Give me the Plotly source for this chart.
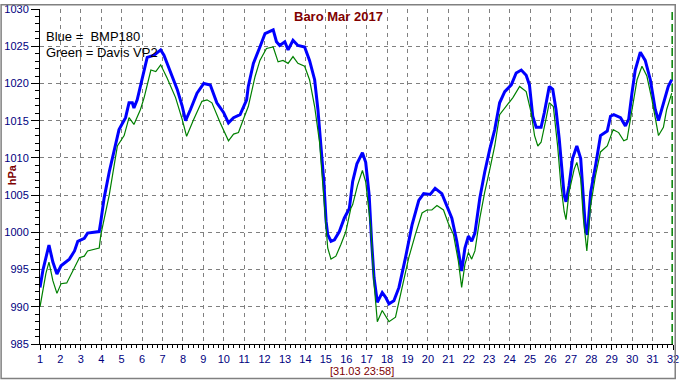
import plotly.graph_objects as go

# ---- data (day of month as fractional day, hPa) ----
blue_t = [1.00, 1.15, 1.44, 1.63, 1.83, 2.03, 2.44, 2.69, 2.85, 3.17, 3.33, 3.90, 3.98, 4.14, 4.39,
          4.63, 4.87, 5.19, 5.36, 5.52, 5.60, 5.76, 6.00, 6.25, 6.59, 6.91, 7.07, 7.40, 7.72, 7.96,
          8.13, 8.37, 8.69, 9.02, 9.34, 9.66, 9.99, 10.23, 10.48, 10.80, 11.12, 11.20, 11.45, 11.77,
          12.02, 12.42, 12.58, 12.74, 12.99, 13.15, 13.39, 13.63, 13.96, 14.20, 14.45, 14.61, 14.77,
          14.90, 15.01, 15.09, 15.25, 15.42, 15.66, 15.90, 16.15, 16.31, 16.52, 16.79, 16.95, 17.12,
          17.24, 17.36, 17.52, 17.76, 17.92, 18.09, 18.33, 18.58, 18.90, 19.22, 19.55, 19.79, 20.11,
          20.35, 20.68, 20.92, 21.17, 21.41, 21.57, 21.65, 21.81, 21.98, 22.14, 22.30, 22.54, 22.78,
          23.03, 23.27, 23.51, 23.76, 24.08, 24.32, 24.57, 24.81, 24.97, 25.13, 25.30, 25.54, 25.70,
          25.94, 26.11, 26.27, 26.43, 26.59, 26.67, 26.76, 26.91, 27.08, 27.29, 27.48, 27.61, 27.72,
          27.81, 27.97, 28.21, 28.45, 28.78, 28.94, 29.10, 29.43, 29.67, 29.83, 29.99, 30.15, 30.40,
          30.64, 30.89, 31.13, 31.29, 31.53, 31.77, 31.94]
blue_v = [992.6, 995.0, 998.3, 996.0, 994.4, 995.5, 996.4, 997.5, 998.8, 999.2, 999.9, 1000.1, 1001.5,
          1004.6, 1008.1, 1010.8, 1013.8, 1015.4, 1017.4, 1017.4, 1016.7, 1017.8, 1020.5, 1023.5,
          1023.8, 1024.5, 1023.8, 1021.6, 1019.2, 1017.0, 1015.0, 1016.5, 1018.7, 1020.0, 1019.8,
          1017.4, 1016.1, 1014.7, 1015.4, 1015.8, 1017.8, 1019.6, 1022.7, 1024.9, 1026.7, 1027.2,
          1025.6, 1025.1, 1025.6, 1024.5, 1025.8, 1025.1, 1024.9, 1023.1, 1020.5, 1016.5, 1011.2,
          1006.8, 1001.5, 999.7, 998.8, 999.0, 1000.1, 1001.9, 1003.2, 1006.8, 1009.2, 1010.7,
          1009.4, 1005.0, 998.8, 993.9, 990.6, 991.9, 991.3, 990.4, 990.8, 992.6, 996.6, 1001.0,
          1004.3, 1005.2, 1005.1, 1005.9, 1005.2, 1003.7, 1001.9, 998.8, 995.7, 994.8, 997.9, 999.5,
          998.8, 999.9, 1004.6, 1008.1, 1011.2, 1013.8, 1017.4, 1018.9, 1019.8, 1021.4, 1021.8,
          1021.1, 1019.8, 1015.6, 1014.1, 1014.1, 1016.1, 1019.6, 1019.2, 1016.5, 1012.5, 1007.2,
          1005.0, 1004.1, 1006.3, 1009.9, 1011.6, 1009.9, 1004.6, 1000.1, 999.7, 1005.4, 1009.0,
          1013.0, 1013.6, 1015.6, 1015.8, 1015.4, 1014.3, 1015.2, 1018.7, 1021.8, 1024.2, 1023.1,
          1020.5, 1016.5, 1015.0, 1017.4, 1019.6, 1020.5]

green_t = [1.00, 1.15, 1.29, 1.44, 1.63, 1.83, 2.03, 2.31, 2.69, 2.93, 3.17, 3.33, 3.90, 3.98, 4.39,
           4.79, 5.12, 5.36, 5.60, 5.92, 6.10, 6.43, 6.67, 6.91, 7.23, 7.64, 7.96, 8.18, 8.53, 8.93,
           9.18, 9.42, 9.83, 10.23, 10.48, 10.72, 10.96, 11.20, 11.53, 11.77, 12.09, 12.42, 12.66,
           12.90, 13.15, 13.39, 13.63, 13.96, 14.20, 14.45, 14.69, 14.85, 15.01, 15.09, 15.25, 15.49,
           15.74, 15.98, 16.22, 16.31, 16.55, 16.79, 16.95, 17.20, 17.36, 17.52, 17.76, 17.92, 18.09,
           18.41, 18.74, 19.06, 19.38, 19.71, 19.95, 20.19, 20.44, 20.76, 21.00, 21.25, 21.49, 21.65,
           21.81, 21.98, 22.14, 22.30, 22.54, 22.78, 23.03, 23.27, 23.51, 23.84, 24.16, 24.49, 24.81,
           25.05, 25.22, 25.38, 25.54, 25.78, 25.94, 26.14, 26.35, 26.51, 26.67, 26.76, 26.91, 27.16,
           27.29, 27.48, 27.61, 27.78, 27.97, 28.21, 28.45, 28.78, 29.07, 29.34, 29.59, 29.75, 29.99,
           30.24, 30.48, 30.72, 30.97, 31.21, 31.29, 31.53, 31.69, 31.94]
green_v = [990.0, 992.5, 994.5, 996.0, 993.5, 991.8, 993.1, 993.2, 995.3, 996.6, 996.8, 997.5, 997.9,
           999.7, 1005.0, 1011.6, 1013.0, 1015.4, 1014.5, 1016.5, 1018.1, 1021.8, 1021.6, 1022.5,
           1020.7, 1018.1, 1015.2, 1012.9, 1015.2, 1017.6, 1017.8, 1017.4, 1014.7, 1012.3, 1013.2,
           1013.4, 1015.2, 1016.9, 1020.9, 1023.1, 1024.7, 1024.9, 1022.9, 1023.1, 1022.7, 1023.6,
           1022.7, 1022.3, 1020.5, 1016.9, 1012.1, 1006.8, 1001.5, 997.9, 996.4, 996.8, 998.4,
           1000.1, 1003.2, 1003.7, 1006.3, 1008.3, 1006.8, 1000.6, 993.1, 988.0, 989.5, 988.8,
           988.0, 988.6, 992.6, 996.6, 999.7, 1002.6, 1003.0, 1003.0, 1003.6, 1003.0, 1001.2, 999.7,
           996.1, 992.6, 995.7, 997.3, 996.4, 997.5, 1001.9, 1005.4, 1008.5, 1011.6, 1015.8, 1016.9,
           1018.1, 1019.6, 1018.9, 1016.1, 1013.0, 1011.6, 1012.1, 1015.2, 1017.4, 1016.9, 1011.6,
           1006.3, 1002.8, 1001.7, 1005.4, 1008.5, 1009.4, 1007.2, 1001.9, 997.5, 1003.7, 1007.7,
           1010.8, 1011.6, 1013.8, 1013.4, 1012.3, 1012.5, 1016.5, 1020.5, 1022.3, 1021.0, 1017.8,
           1014.3, 1013.0, 1014.1, 1016.5, 1018.7]

x_ticks = list(range(1, 33))
y_ticks = list(range(985, 1031, 5))
title_text = "Baro Mar 2017"
y_title = "hPa"
stamp_text = "[31.03 23:58]"
legend_lines = ["Blue =  BMP180", "Green = Davis VP2"]

W, H = 682, 380
L, R, T, B = 40, 3, 5, 36
pw, ph = W - L - R, H - T - B

FONT = "Arial, Liberation Sans, sans-serif"
NAVY = "#000080"
DRED = "#800000"

fig = go.Figure()
fig.add_trace(go.Scatter(x=blue_t, y=blue_v, mode="lines",
                         line=dict(color="#0000FF", width=3), hoverinfo="skip"))
fig.add_trace(go.Scatter(x=green_t, y=green_v, mode="lines",
                         line=dict(color="#008000", width=1.2), hoverinfo="skip"))

axis_common = dict(showgrid=True, gridcolor="#808080", gridwidth=1, griddash="4px,4px",
                   showline=True, linecolor="black", linewidth=1, ticks="outside",
                   tickcolor="black", tickwidth=1, zeroline=False, ticklabeloverflow="allow",
                   tickfont=dict(family=FONT, size=11, color=NAVY))

fig.update_xaxes(range=[1, 32], tickvals=x_ticks, ticklen=5,
                 minor=dict(dtick=0.25, ticklen=3, tickcolor="black", showgrid=False, ticks="outside"),
                 **axis_common)
fig.update_yaxes(range=[985, 1030], tickvals=y_ticks, ticklen=8,
                 minor=dict(dtick=1, ticklen=4, tickcolor="black", showgrid=False, ticks="outside"),
                 **axis_common)

def px_x(p):
    return (p - L) / pw

def px_y(p):
    return 1 - (p - T) / ph

annotations = [
    dict(text="<b>%s</b>" % title_text, x=px_x(341), y=px_y(13), xref="paper", yref="paper",
         showarrow=False, xanchor="center", yanchor="middle",
         font=dict(family=FONT, size=13, color=DRED)),
    dict(text="<b>%s</b>" % y_title, x=px_x(12), y=px_y(173), xref="paper", yref="paper",
         showarrow=False, textangle=-90, xanchor="center", yanchor="middle",
         font=dict(family=FONT, size=11, color=DRED)),
    dict(text=stamp_text, x=px_x(365), y=px_y(371), xref="paper", yref="paper",
         showarrow=False, xanchor="center", yanchor="middle",
         font=dict(family=FONT, size=11, color=DRED)),
]
for i, line in enumerate(legend_lines):
    annotations.append(dict(text=line, x=px_x(44), y=px_y(33 + 16.5 * i), xref="paper", yref="paper",
                            showarrow=False, xanchor="left", yanchor="middle",
                            font=dict(family=FONT, size=13, color="black")))

shapes = [
    # current-time marker at end of data
    dict(type="line", xref="x", yref="paper", x0=green_t[-1] + 0.02, x1=green_t[-1] + 0.02, y0=0, y1=1,
         line=dict(color="#008000", width=1.5, dash="8px,4px")),
    # outer frame of picture
    dict(type="rect", xref="paper", yref="paper",
         x0=px_x(0.75), x1=px_x(W - 0.75), y0=px_y(H - 1), y1=px_y(0.75),
         line=dict(color="#808080", width=1.5), fillcolor="rgba(0,0,0,0)", layer="above"),
]

fig.update_layout(width=W, height=H, margin=dict(l=L, r=R, t=T, b=B),
                  paper_bgcolor="white", plot_bgcolor="white", showlegend=False,
                  annotations=annotations, shapes=shapes)

fig.write_html("out.html")
